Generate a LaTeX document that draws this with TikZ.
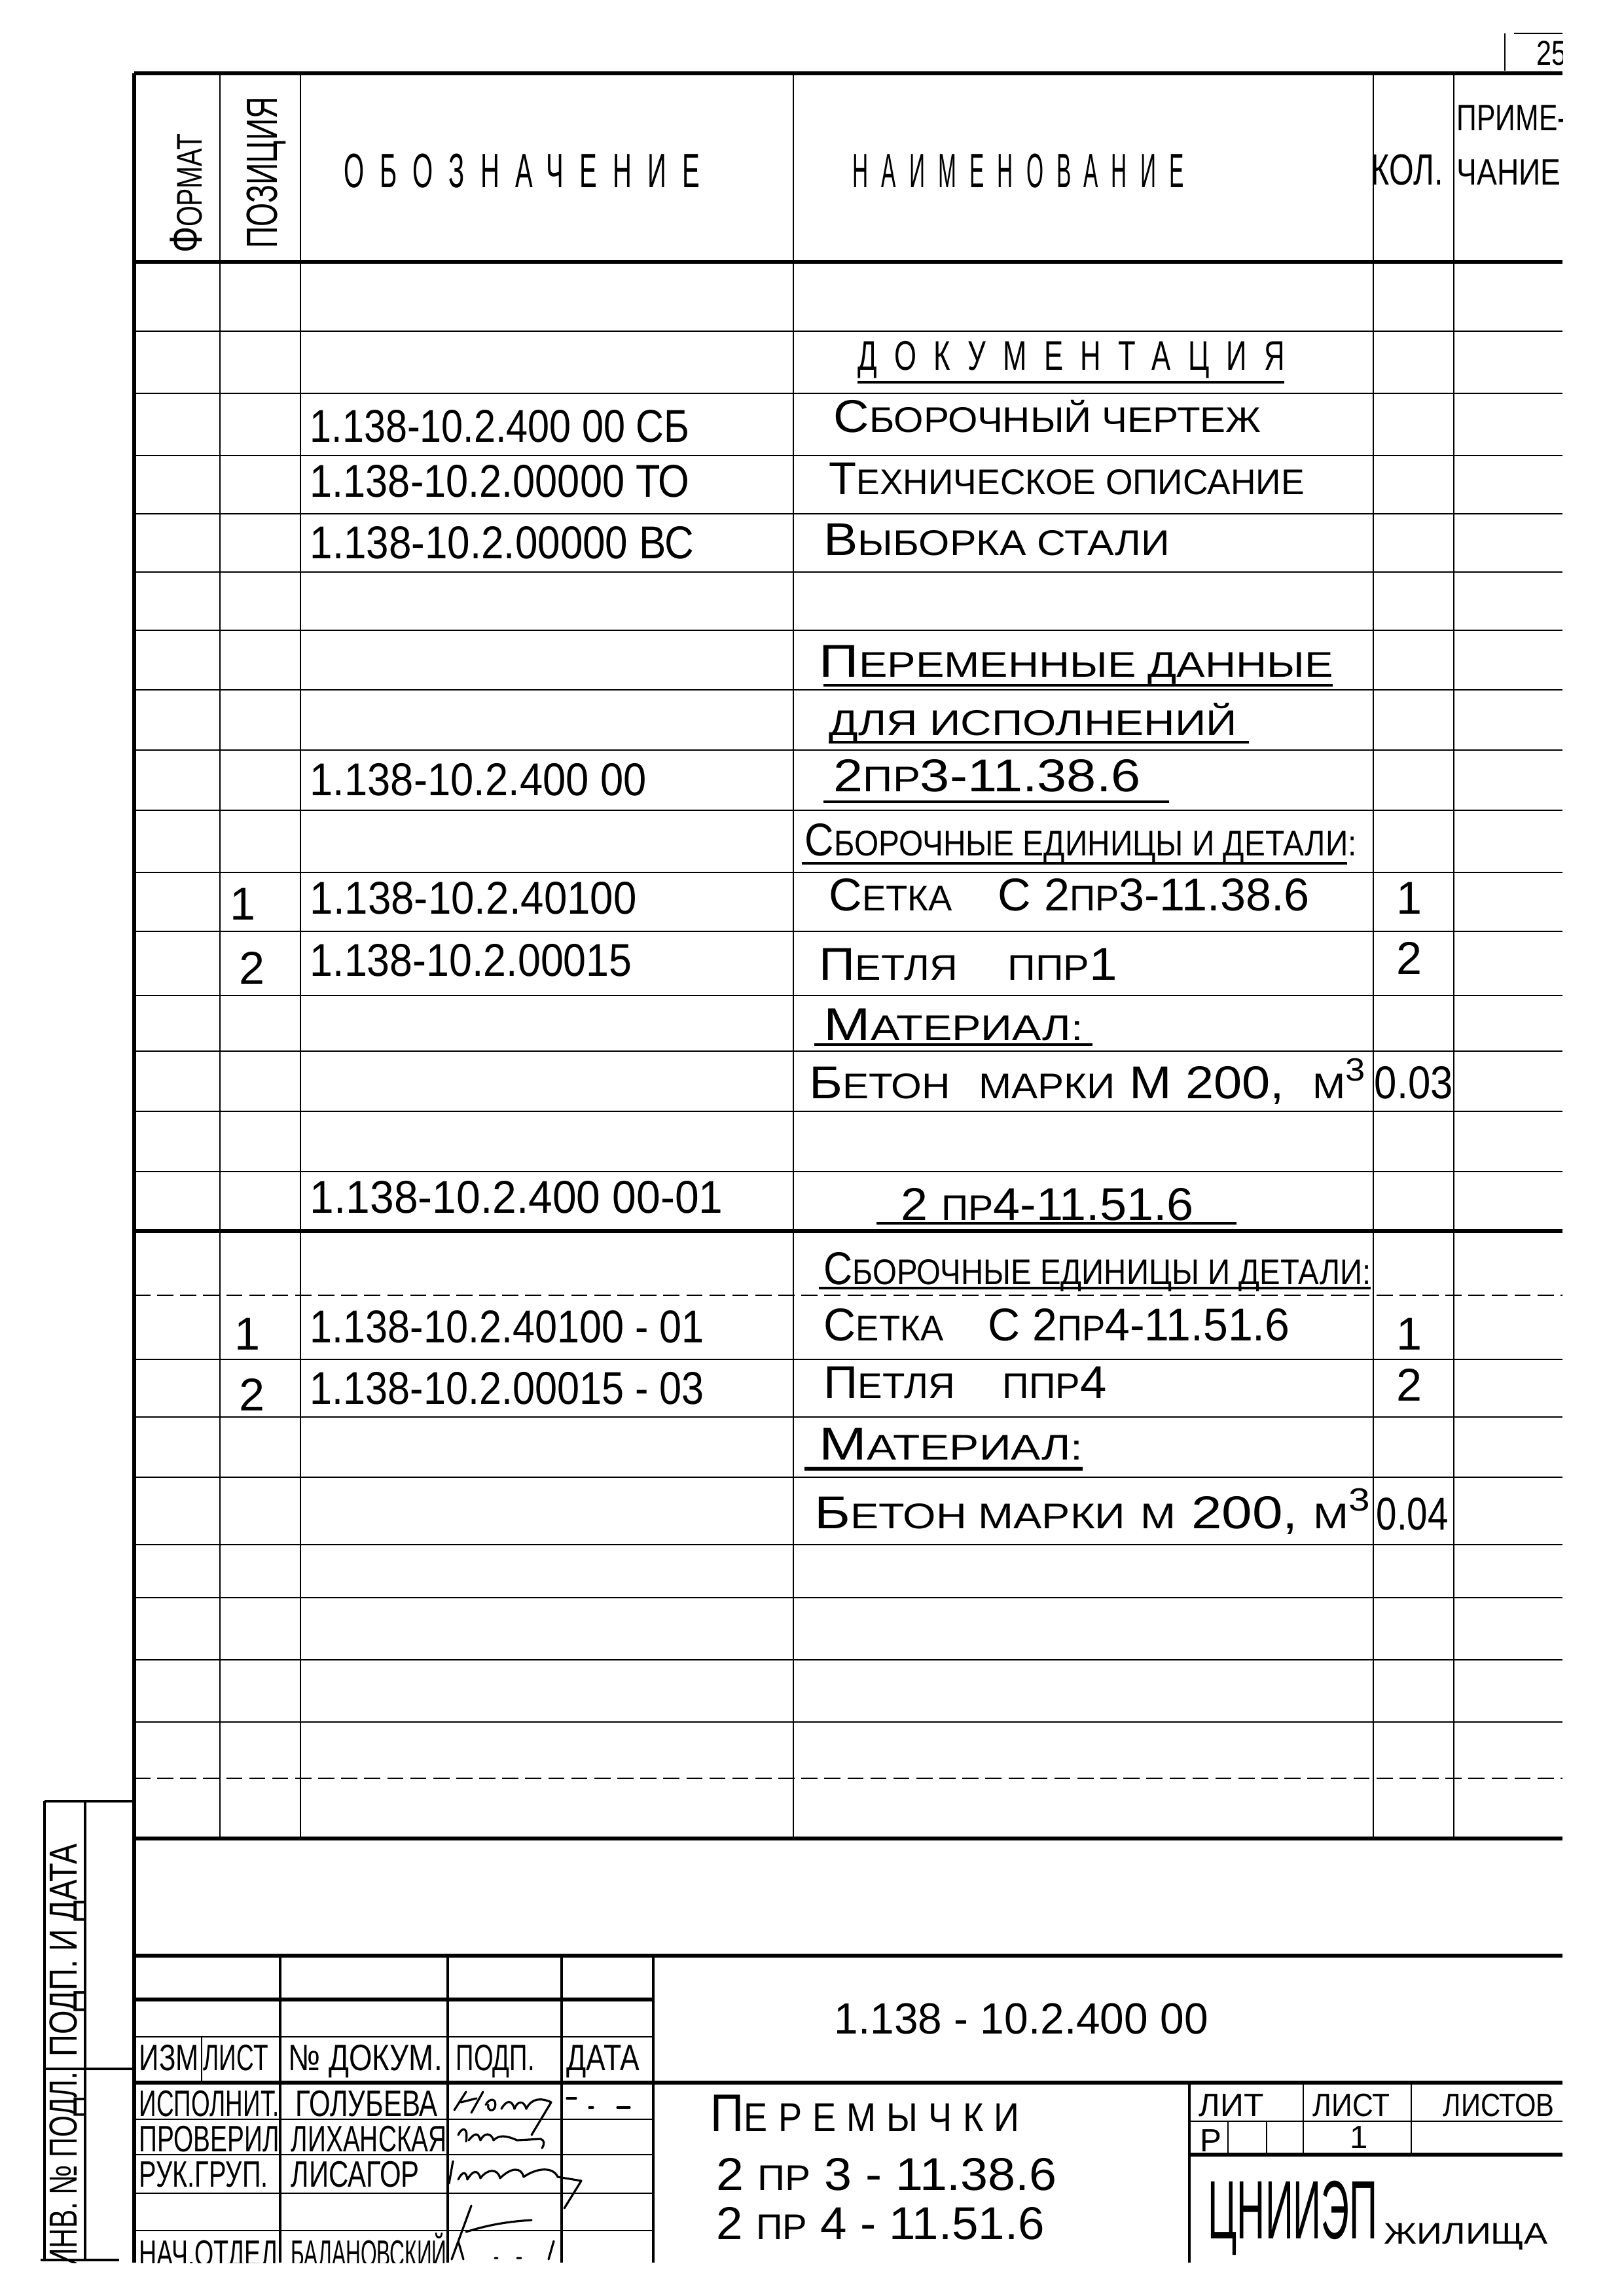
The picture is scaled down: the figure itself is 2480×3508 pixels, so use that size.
\documentclass[tikz,border=0pt]{standalone}
\usepackage{fontspec}
\setmainfont{Liberation Sans}
\newcommand{\smc}[1]{{\fontsize{15.5}{15.5}\selectfont #1}}
\newcommand{\fitto}[2]{\resizebox{#1}{\height}{#2}}
\tikzset{
  rowline/.style={line width=0.25mm},
  midline/.style={line width=0.38mm},
  boldline/.style={line width=0.55mm},
  txt/.style={anchor=base west, inner sep=0pt, font=\fontsize{20}{20}\selectfont},
  ctxt/.style={anchor=base, inner sep=0pt, font=\fontsize{20}{20}\selectfont},
  head/.style={anchor=base west, inner sep=0pt, font=\fontsize{21}{21}\selectfont\addfontfeature{LetterSpace=60}},
  stamp/.style={anchor=base west, inner sep=0pt, font=\fontsize{16}{16}\selectfont},
  sig/.style={line width=0.32mm, line cap=round, line join=round}
}

\begin{document}
\begin{tikzpicture}[x=0.1mm, y=-0.1mm]
\fill[white] (0,0) rectangle (2480,3508);
\useasboundingbox (0,0) rectangle (2480,3508);
\begin{scope}
\clip (0,0) rectangle (2387,3457);
% page number
\draw[rowline] (2299,51) -- (2299,108) (2313,51) -- (2387,51);
\node[anchor=base west, inner sep=0pt, font=\fontsize{15}{15}\selectfont] (sheetno) at (2347,100) {\fitto{4.6mm}{25}};
% main table
\draw[boldline] (205,112) -- (2387,112);
\draw[boldline] (205,400) -- (2387,400);
\draw[boldline] (205,1881) -- (2387,1881);
\draw[boldline] (205,2809) -- (2387,2809);
\foreach \y in {506,601,696,785,874,963,1054,1146,1238,1333,1423,1521,1606,1698,1790,2077,2165,2257,2360,2441,2536,2631}
	\draw[rowline] (205,\y) -- (2387,\y);
\foreach \y in {1979,2717}
	\draw[line width=0.2mm, dash pattern=on 7pt off 3pt] (205,\y) -- (2387,\y);
\foreach \x in {336,459,1212,2098,2221}
	\draw[rowline] (\x,112) -- (\x,2809);
\draw[boldline] (205,112) -- (205,3457);
% header
\node[rotate=90, inner sep=0pt, font=\fontsize{20}{20}\selectfont] (hformat) at (284,296) {\fitto{18.2mm}{Ф\smc{ОРМАТ}}};
\node[rotate=90, inner sep=0pt, font=\fontsize{19}{19}\selectfont] (hpos) at (407,264) {\fitto{23.2mm}{ПОЗИЦИЯ}};
\node[head] (hoboz) at (525,287) {\fitto{54.3mm}{ОБОЗНАЧЕНИЕ}};
\node[head] (hname) at (1302,287) {\fitto{50.6mm}{НАИМЕНОВАНИЕ}};
\node[txt, font=\fontsize{19}{19}\selectfont] (hkol) at (2094,283) {\fitto{11mm}{КОЛ.}};
\node[txt, font=\fontsize{16}{16}\selectfont] (hprim) at (2225,200) {\fitto{16.8mm}{ПРИМЕ-}};
\node[txt, font=\fontsize{16}{16}\selectfont] (hprimb) at (2225,283) {\fitto{15.9mm}{ЧАНИЕ}};
% designations
\foreach \y/\wid/\t [count=\i] in {
	676/58.0/{1.138-10.2.400 00 СБ},
	759/58.0/{1.138-10.2.00000 ТО},
	853/58.7/{1.138-10.2.00000 ВС},
	1215/51.4/{1.138-10.2.400 00},
	1396/49.9/{1.138-10.2.40100},
	1491/49.2/{1.138-10.2.00015},
	1853/63.1/{1.138-10.2.400 00-01},
	2051/60.2/{1.138-10.2.40100 - 01},
	2145/60.2/{1.138-10.2.00015 - 03}}
	\node[txt] (oboz\i) at (473,\y) {\fitto{\wid mm}{\t}};
% names
\node[head, font=\fontsize{18}{18}\selectfont\addfontfeature{LetterSpace=60}] (docs) at (1310,566) {\fitto{65.2mm}{ДОКУМЕНТАЦИЯ}};
\foreach \x/\y/\wid/\t [count=\i] in {
	1273/661/65.3/{С\smc{БОРОЧНЫЙ ЧЕРТЕЖ}},
	1266/756/72.6/{Т\smc{ЕХНИЧЕСКОЕ ОПИСАНИЕ}},
	1258/848/52.8/{В\smc{ЫБОРКА СТАЛИ}},
	1251/1034/78.5/{П\smc{ЕРЕМЕННЫЕ ДАННЫЕ}},
	1266/1123/62.3/{\smc{ДЛЯ ИСПОЛНЕНИЙ}},
	1273/1209/46.9/{2\smc{ПР}3-11.38.6},
	1229/1307/84.3/{С\smc{БОРОЧНЫЕ ЕДИНИЦЫ И ДЕТАЛИ:}},
	1266/1391/73.4/{С\smc{ЕТКА}\quad С 2\smc{ПР}3-11.38.6},
	1251/1497/45.5/{П\smc{ЕТЛЯ}\quad\smc{ППР}1},
	1258/1589/39.6/{М\smc{АТЕРИАЛ:}},
	1236/1678/85.1/{Б\smc{ЕТОН}\ \ \smc{МАРКИ} М 200,\ \ \smc{М}\textsuperscript{3}},
	1376/1864/44.7/{2 \smc{ПР}4-11.51.6},
	1258/1962/83.6/{С\smc{БОРОЧНЫЕ ЕДИНИЦЫ И ДЕТАЛИ:}},
	1258/2048/71.2/{С\smc{ЕТКА}\quad С 2\smc{ПР}4-11.51.6},
	1258/2136/43.2/{П\smc{ЕТЛЯ}\quad\smc{ППР}4},
	1251/2230/40.3/{М\smc{АТЕРИАЛ:}},
	1244/2335/85.0/{Б\smc{ЕТОН МАРКИ} \smc{М} 200,\ \smc{М}\textsuperscript{3}}}
	\node[txt] (name\i) at (\x,\y) {\fitto{\wid mm}{\t}};
% underlines
\foreach \xa/\xb/\y in {1310/1962/584, 1258/2036/1047, 1266/1908/1134, 1258/1786/1225, 1225/2058/1319, 1244/1669/1596, 1339/1889/1869, 1251/2094/1968}
	\draw[midline] (\xa,\y) -- (\xb,\y);
\draw[line width=0.6mm] (1229,2244) -- (1654,2244);
% positions and quantities
\node[ctxt] (pos1) at (371,1405) {1};
\node[ctxt] (pos2) at (385,1503) {2};
\node[ctxt] (pos3) at (378,2062) {1};
\node[ctxt] (pos4) at (385,2155) {2};
\node[ctxt] (kol1) at (2153,1396) {1};
\node[ctxt] (kol2) at (2153,1488) {2};
\node[txt] (kol3) at (2099,1678) {\fitto{12mm}{0.03}};
\node[ctxt] (kol4) at (2153,2062) {1};
\node[ctxt] (kol5) at (2153,2140) {2};
\node[txt] (kol6) at (2102,2337) {\fitto{11mm}{0.04}};
% title block
\draw[boldline] (205,2988) -- (2387,2988);
\draw[boldline] (205,3055) -- (998,3055);
\draw[rowline] (205,3112) -- (998,3112);
\draw[boldline] (205,3182) -- (2387,3182);
\foreach \y in {3238,3292,3351,3408}
	\draw[rowline] (205,\y) -- (998,\y);
\foreach \x in {428,684,858,998}
	\draw[midline] (\x,2988) -- (\x,3457);
\draw[rowline] (308,3112) -- (308,3182);
\draw[midline] (1817,3182) -- (1817,3457);
\draw[rowline] (1817,3241) -- (2387,3241);
\draw[boldline] (1817,3292) -- (2387,3292);
\foreach \x in {1991,2156}
	\draw[rowline] (\x,3182) -- (\x,3292);
\foreach \x in {1876,1935}
	\draw[rowline] (\x,3241) -- (\x,3292);
\foreach \x/\y/\wid/\t [count=\i] in {
	212/3163/9.1/ИЗМ, 310/3163/9.9/ЛИСТ, 440/3163/23.5/{№ ДОКУМ.}, 696/3163/12.0/ПОДП., 865/3163/11.2/ДАТА,
	212/3233/21.4/ИСПОЛНИТ., 451/3233/21.7/ГОЛУБЕВА,
	212/3287/21.4/ПРОВЕРИЛ, 444/3287/23.8/ЛИХАНСКАЯ,
	212/3341/19.7/РУК.ГРУП., 444/3341/19.6/ЛИСАГОР,
	212/3462/21.1/НАЧ.ОТДЕЛ, 444/3462/23.8/БАЛАНОВСКИЙ}
	\node[stamp] (stamp\i) at (\x,\y) {\fitto{\wid mm}{\t}};
% signatures
\draw[sig] (694,3224) -- (712,3196) (704,3212) -- (728,3206) (720,3228) -- (738,3196)
	(742,3216) .. controls (748,3204) and (760,3206) .. (756,3220) .. controls (752,3228) and (744,3224) .. (746,3216)
	(766,3222) .. controls (774,3208) and (782,3208) .. (786,3222) .. controls (790,3210) and (800,3208) .. (804,3222)
	.. controls (812,3205) and (828,3205) .. (842,3212) -- (812,3262);
\draw[sig] (866,3206) -- (880,3206) (900,3220) -- (906,3220) (943,3220) -- (962,3220);
\draw[sig] (700,3262) .. controls (705,3250) and (716,3248) .. (712,3272)
	(716,3270) .. controls (726,3258) and (730,3258) .. (734,3270) .. controls (740,3258) and (750,3258) .. (754,3270)
	.. controls (762,3262) and (772,3262) .. (790,3270) -- (826,3268) .. controls (832,3270) and (832,3276) .. (828,3282);
\draw[sig] (686,3336) -- (692,3302)
	(700,3330) .. controls (706,3318) and (712,3316) .. (714,3330) .. controls (722,3316) and (730,3314) .. (734,3328)
	.. controls (744,3314) and (760,3312) .. (764,3328) .. controls (780,3312) and (796,3310) .. (800,3326)
	.. controls (820,3312) and (845,3310) .. (852,3326) -- (888,3332) -- (862,3374);
\draw[sig] (720,3370) -- (690,3452) (712,3410) .. controls (750,3398) and (780,3394) .. (812,3392)
	(700,3424) -- (708,3452) (846,3424) -- (838,3452) (756,3450) -- (760,3450) (790,3450) -- (796,3450);
% right part of title block
\node[txt, font=\fontsize{19}{19}\selectfont] (code) at (1274,3107) {\fitto{57.1mm}{1.138 - 10.2.400 00}};
\node[txt, font=\addfontfeature{LetterSpace=30}] (title) at (1085,3256) {\fitto{47.2mm}{{\fontsize{23}{23}\selectfont П}{\fontsize{17.5}{17.5}\selectfont ЕРЕМЫЧКИ}}};
\node[txt] (mark1) at (1094,3346) {\fitto{52mm}{2 \smc{ПР} 3 - 11.38.6}};
\node[txt] (mark2) at (1094,3421) {\fitto{50.1mm}{2 \smc{ПР} 4 - 11.51.6}};
\node[stamp, font=\fontsize{14}{14}\selectfont] (lit) at (1831,3233) {\fitto{9.9mm}{ЛИТ}};
\node[stamp, font=\fontsize{14}{14}\selectfont] (list) at (2005,3233) {\fitto{11.8mm}{ЛИСТ}};
\node[stamp, font=\fontsize{14}{14}\selectfont] (listov) at (2204,3233) {\fitto{17mm}{ЛИСТОВ}};
\node[stamp, font=\fontsize{14}{14}\selectfont] (litr) at (1833,3287) {Р};
\node[ctxt, font=\fontsize{14}{14}\selectfont] (listno) at (2076,3282) {1};
\node[txt, font=\fontsize{36}{36}\selectfont] (org) at (1845,3420) {\fitto{25.9mm}{ЦНИИЭП}};
\node[txt, font=\fontsize{13}{13}\selectfont] (orgb) at (2114,3428) {\fitto{25mm}{ЖИЛИЩА}};
% left strip
\draw[midline] (68,2752) -- (205,2752) (68,2752) -- (68,3453) (130,2752) -- (130,3453) (68,3161) -- (205,3161) (62,3453) -- (182,3453);
\node[rotate=90, inner sep=0pt, font=\fontsize{17}{17}\selectfont] (podp) at (103,2980) {\fitto{32.5mm}{ПОДП. И ДАТА}};
\node[rotate=90, anchor=east, inner sep=0pt, font=\fontsize{17}{17}\selectfont] (inv) at (103,3165) {\fitto{30mm}{ИНВ. № ПОДЛ.}};
\end{scope}
\end{tikzpicture}
\end{document}
